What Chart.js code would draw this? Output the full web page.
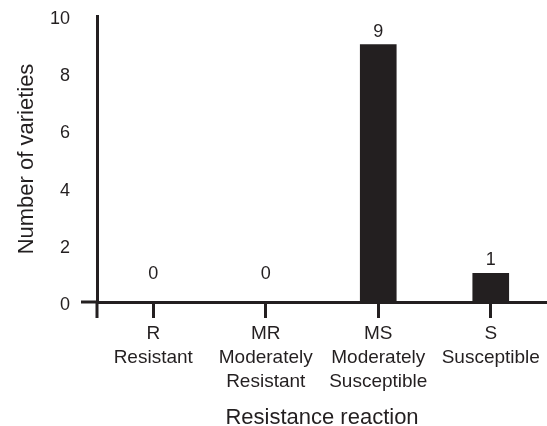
<!DOCTYPE html>
<html>
<head>
<meta charset="utf-8">
<script src="https://cdn.jsdelivr.net/npm/chart.js@4"></script>
<style>
  html, body { margin: 0; padding: 0; background: #fff; }
  #wrap { width: 547px; height: 426px; }
</style>
</head>
<body>
<div id="wrap"><canvas id="chart" width="547" height="426"></canvas></div>
<script>
// data
const categories = [
  ['R', 'Resistant'],
  ['MR', 'Moderately', 'Resistant'],
  ['MS', 'Moderately', 'Susceptible'],
  ['S', 'Susceptible']
]
const varieties = [0, 0, 9, 1]
const yTicks = [0, 2, 4, 6, 8, 10]

const INK = '#231f20'
const FONT = "'Liberation Sans', Arial, sans-serif"

// little extension lines where the two axes cross
const axisCross = {
  id: 'axisCross',
  afterDraw(chart) {
    const { ctx, chartArea } = chart
    ctx.save()
    ctx.strokeStyle = INK
    ctx.lineWidth = 3
    ctx.beginPath()
    ctx.moveTo(chartArea.left - 16, chartArea.bottom)
    ctx.lineTo(chartArea.left, chartArea.bottom)
    ctx.moveTo(chartArea.left, chartArea.bottom)
    ctx.lineTo(chartArea.left, chartArea.bottom + 16)
    ctx.stroke()
    ctx.restore()
  }
}

// the counts written above each bar
const valueLabels = {
  id: 'valueLabels',
  afterDatasetsDraw(chart) {
    const { ctx } = chart
    const meta = chart.getDatasetMeta(0)
    ctx.save()
    ctx.fillStyle = INK
    ctx.font = '18px ' + FONT
    ctx.textAlign = 'center'
    ctx.textBaseline = 'middle'
    meta.data.forEach((bar, i) => {
      const v = varieties[i]
      const off = v === 0 ? 28 : 13
      ctx.fillText(String(v), bar.x, bar.y - off)
    })
    ctx.restore()
  }
}

new Chart(document.getElementById('chart'), {
  type: 'bar',
  data: {
    labels: categories,
    datasets: [{
      data: varieties,
      backgroundColor: INK,
      borderWidth: 0,
      barThickness: 36
    }]
  },
  options: {
    responsive: false,
    animation: false,
    layout: { padding: { top: 16, left: 0, right: 0, bottom: 0 } },
    plugins: {
      legend: { display: false },
      tooltip: { enabled: false }
    },
    scales: {
      x: {
        offset: true,
        grid: {
          offset: false,
          drawOnChartArea: false,
          drawTicks: true,
          tickLength: 16,
          color: INK,
          lineWidth: 3
        },
        border: { display: true, color: INK, width: 3 },
        ticks: {
          color: INK,
          font: { family: FONT, size: 19, lineHeight: 1.26 },
          padding: 4,
          maxRotation: 0,
          autoSkip: false
        },
        title: {
          display: true,
          text: 'Resistance reaction',
          color: INK,
          font: { family: FONT, size: 22, lineHeight: 0.75 },
          padding: { top: 0, bottom: 0 }
        },
        afterFit(scale) {
          scale.height = 124
          scale.paddingLeft = 0
          scale.paddingRight = 0
        }
      },
      y: {
        min: 0,
        max: 10,
        afterBuildTicks(scale) { scale.ticks = yTicks.map(v => ({ value: v })) },
        grid: { display: false, drawTicks: false },
        border: { display: true, color: INK, width: 3 },
        ticks: {
          color: INK,
          font: { family: FONT, size: 18 },
          padding: 27,
          labelOffset: 3
        },
        title: {
          display: true,
          text: 'Number of varieties',
          color: INK,
          font: { family: FONT, size: 22, lineHeight: 1 },
          padding: { top: 16, bottom: 0 }
        },
        afterFit(scale) {
          scale.width = 97
          scale.paddingTop = 0
          scale.paddingBottom = 0
        }
      }
    }
  },
  plugins: [axisCross, valueLabels]
})
</script>
</body>
</html>
